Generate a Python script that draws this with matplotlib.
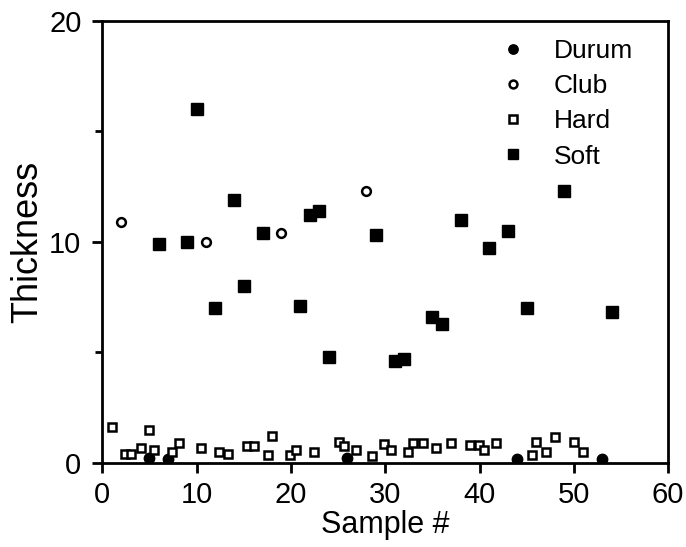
"""
    Thickness per sample, by wheat class.
"""
import matplotlib
matplotlib.use('Agg')
import matplotlib.pyplot as plt

plt.rcParams['font.family'] = ['Liberation Sans', 'DejaVu Sans']

# durum (filled circles)
durum_x = [5, 7, 26, 44, 53]
durum_y = [0.2, 0.15, 0.2, 0.15, 0.15]

# club (open circles)
club_x = [2, 11, 19, 28]
club_y = [10.9, 10.0, 10.4, 12.3]

# hard (open squares)
hard_x = [1, 2.4, 3, 4.1, 5, 5.5, 7.4, 8.1, 10.5, 12.4, 13.3, 15.4, 16.1, 18, 17.6,
          19.9, 20.5, 22.4, 25.1, 25.6, 26.9, 28.6, 29.9, 30.6, 32.4, 33, 34, 35.4,
          37, 39, 39.9, 40.5, 41.8, 45.6, 46, 47, 48, 50, 51]
hard_y = [1.6, 0.4, 0.4, 0.65, 1.5, 0.6, 0.5, 0.9, 0.65, 0.5, 0.4, 0.75, 0.75, 1.2, 0.35,
          0.35, 0.57, 0.5, 0.95, 0.75, 0.57, 0.3, 0.85, 0.57, 0.47, 0.88, 0.88, 0.65,
          0.88, 0.8, 0.8, 0.6, 0.88, 0.35, 0.95, 0.47, 1.18, 0.95, 0.5]

# soft (filled squares)
soft_x = [6, 9, 10, 12, 14, 15, 17, 21, 22, 23, 24, 29, 31, 32, 35, 36, 38, 41, 43,
          45, 49, 54]
soft_y = [9.9, 10.0, 16.0, 7.0, 11.9, 8.0, 10.4, 7.1, 11.2, 11.4, 4.8, 10.3, 4.6, 4.7,
          6.6, 6.3, 11.0, 9.7, 10.5, 7.0, 12.3, 6.8]


fig = plt.figure(figsize=(6.86, 5.47), dpi=100)
ax = fig.add_axes([0.149, 0.154, 0.825, 0.808])

ax.plot(durum_x, durum_y, 'o', color='black', ms=7.5, ls='none', label='Durum')
ax.plot(club_x, club_y, 'o', mfc='white', mec='black', mew=1.8, ms=6.3, ls='none',
        label='Club')
ax.plot(hard_x, hard_y, 's', mfc='white', mec='black', mew=1.8, ms=5.8, ls='none',
        label='Hard')
ax.plot(soft_x, soft_y, 's', color='black', ms=8, ls='none', label='Soft')

ax.set_xlim(0, 60)
ax.set_ylim(0, 20)
ax.set_xticks(range(0, 61, 10))
ax.set_yticks([0, 10, 20])
ax.set_yticks([5, 15], minor=True)

for side in ax.spines.values():
    side.set_linewidth(2)
ax.tick_params(which='major', direction='out', width=2, length=7, labelsize=21)
ax.tick_params(axis='x', pad=6)
ax.tick_params(axis='y', pad=8)
ax.tick_params(which='minor', direction='out', width=2, length=5)

ax.set_xlabel('Sample #', fontsize=22, labelpad=0.5)
ax.set_ylabel('Thickness', fontsize=26, labelpad=3)

ax.legend(loc='upper right', frameon=False, fontsize=19, handletextpad=0.55,
          labelspacing=0.42, borderaxespad=0.3, markerscale=0.9,
          bbox_to_anchor=(0.97, 1.0))

fig.savefig('out.png', dpi=100)
